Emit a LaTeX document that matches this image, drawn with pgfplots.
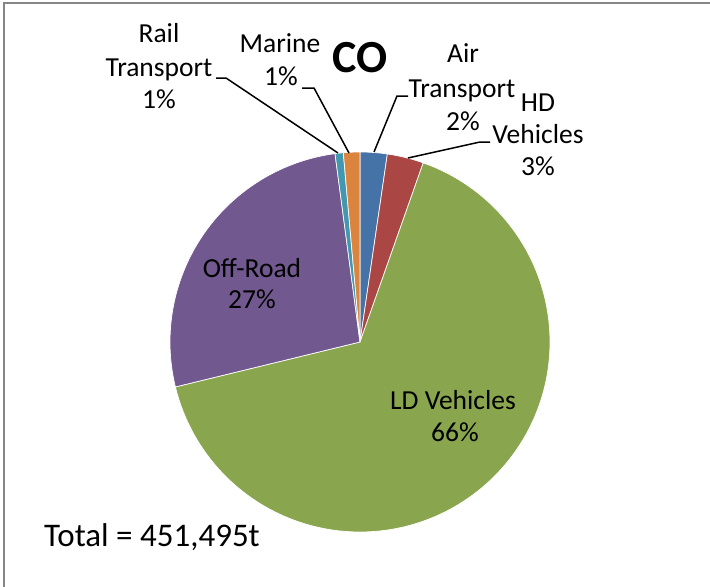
\documentclass[border=0pt]{standalone}
\usepackage{fontspec}
\setmainfont{Carlito}
\usepackage{pgfplots}
\usepackage{pgfplotstable}
\pgfplotsset{compat=1.18}
\definecolor{cAir}{HTML}{4572A7}
\definecolor{cHD}{HTML}{AA4643}
\definecolor{cLD}{HTML}{89A54E}
\definecolor{cOff}{HTML}{71588F}
\definecolor{cRail}{HTML}{4198AF}
\definecolor{cMar}{HTML}{DB843D}
\definecolor{frame}{HTML}{868686}

% CO emissions share (%), clockwise from 12 o'clock
\pgfplotstableread{
sector value
Air 2.3
HD 3.1
LD 65.8
OffRoad 26.7
Rail 0.7
Marine 1.4
}\piedata

\gdef\cum{0}
\newcommand{\pieslice}[2]{%
  \pgfplotstablegetelem{#1}{value}\of\piedata
  \pgfmathsetmacro{\sA}{\cum}%
  \pgfmathsetmacro{\sB}{\cum+3.6*\pgfplotsretval}%
  \xdef\cum{\sB}%
  \edef\doslice{\noexpand\addplot[fill=#2, draw=white, line width=0.7pt, domain=\sA:\sB, samples=120] ({360+190*sin(x)},{342-190*cos(x)}) -- (axis cs:360,342) -- cycle;}%
  \doslice}

\newcommand{\lab}{\fontsize{27.5bp}{33bp}\selectfont}

\begin{document}
\begin{tikzpicture}
\begin{axis}[name=ax, width=710bp, height=586bp, scale only axis, hide axis,
  xmin=0, xmax=710, ymin=0, ymax=586, y dir=reverse, clip=false]
\pieslice{0}{cAir}
\pieslice{1}{cHD}
\pieslice{2}{cLD}
\pieslice{3}{cOff}
\pieslice{4}{cRail}
\pieslice{5}{cMar}

% leader lines
\draw[black, line width=1.5bp] (axis cs:216,78) -- (axis cs:226,78) -- (axis cs:338,153);
\draw[black, line width=1.5bp] (axis cs:302,88) -- (axis cs:314,88) -- (axis cs:349,153);
\draw[black, line width=1.5bp] (axis cs:408,96) -- (axis cs:397,96) -- (axis cs:374,152);
\draw[black, line width=1.5bp] (axis cs:408,158) -- (axis cs:480,142) -- (axis cs:490,142);

% labels
\node[anchor=base, font=\lab] at (axis cs:159,43) {Rail};
\node[anchor=base, font=\lab] at (axis cs:159,76) {Transport};
\node[anchor=base, font=\lab] at (axis cs:159,108) {1\%};
\node[anchor=base, font=\lab] at (axis cs:280,53) {Marine};
\node[anchor=base, font=\lab] at (axis cs:281,85) {1\%};
\node[anchor=base, font=\fontsize{46bp}{52bp}\selectfont\bfseries] at (axis cs:360,72) {CO};
\node[anchor=base, font=\lab] at (axis cs:463,63) {Air};
\node[anchor=base, font=\lab] at (axis cs:462,97) {Transport};
\node[anchor=base, font=\lab] at (axis cs:463,130) {2\%};
\node[anchor=base, font=\lab] at (axis cs:538,111) {HD};
\node[anchor=base, font=\lab] at (axis cs:538,143) {Vehicles};
\node[anchor=base, font=\lab] at (axis cs:538,175) {3\%};
\node[anchor=base, font=\lab] at (axis cs:252,277) {Off-Road};
\node[anchor=base, font=\lab] at (axis cs:252,308) {27\%};
\node[anchor=base, font=\lab] at (axis cs:453,409) {LD Vehicles};
\node[anchor=base, font=\lab] at (axis cs:455,441) {66\%};
\node[anchor=base west, font=\fontsize{33bp}{38bp}\selectfont, inner sep=0pt] at (axis cs:44,546) {Total = 451,495t};

% chart frame
\draw[frame, line width=1.5bp] (axis cs:4,600) -- (axis cs:4,3) -- (axis cs:720,3);
\end{axis}
\pgfresetboundingbox
\path[use as bounding box] (ax.south west) rectangle (ax.north east);
\end{tikzpicture}
\end{document}
